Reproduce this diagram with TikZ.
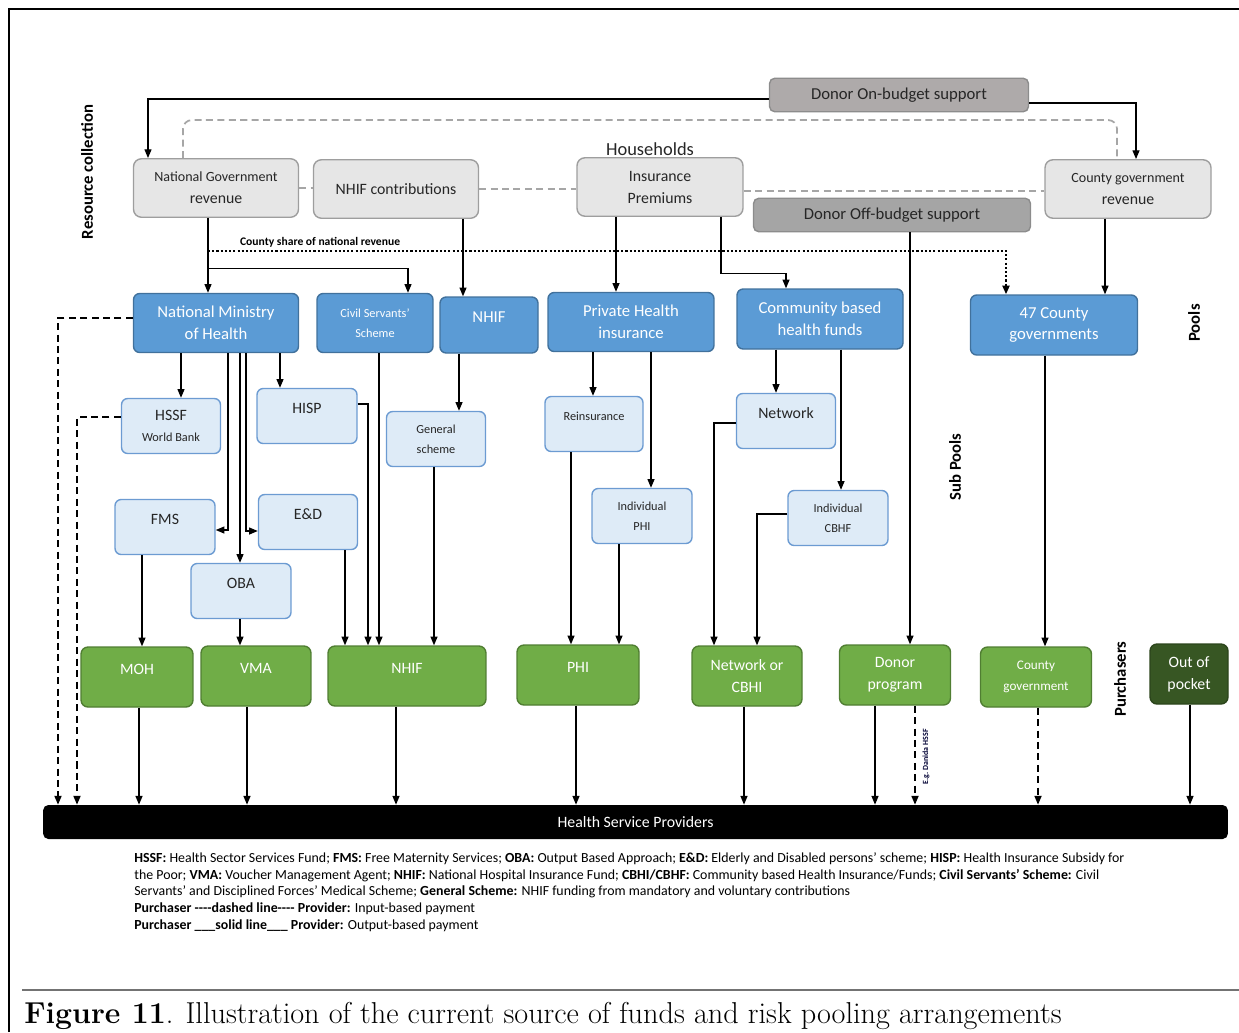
\documentclass[tikz,border=0pt]{standalone}
\usepackage{fontspec}
\setsansfont{Carlito}
\usepackage{tikz}
\usetikzlibrary{positioning, arrows.meta, calc}
\definecolor{BoxGray}{HTML}{E6E6E6}
\definecolor{BoxEdge}{HTML}{9E9E9E}
\definecolor{DonorOn}{HTML}{AEAAAA}
\definecolor{DonorOff}{HTML}{A5A5A5}
\definecolor{DonorEdge}{HTML}{8C8C8C}
\definecolor{PoolBlue}{HTML}{5B9BD5}
\definecolor{PoolEdge}{HTML}{41719C}
\definecolor{SubBlue}{HTML}{DEEBF7}
\definecolor{SubEdge}{HTML}{6C9BD2}
\definecolor{BuyGreen}{HTML}{70AD47}
\definecolor{BuyEdge}{HTML}{507E32}
\definecolor{OopGreen}{HTML}{375623}
\definecolor{DashGray}{HTML}{A6A6A6}
% vertical drop from one node to the next one below
\newcommand{\dropto}[4][arr]{%
  \draw[#1] ($(#2.south)+(#3,0)$) coordinate (tmpa) -- (tmpa |- #4.north);}

\begin{document}
\begin{tikzpicture}[x=0.02cm, y=-0.02cm, font=\sffamily,
    src/.style={rectangle, draw=BoxEdge, fill=BoxGray, rounded corners=4.5pt,
                line width=0.8pt, align=center, text=black!85, inner sep=1pt,
                minimum width=3.3cm, minimum height=1.17cm,
                font=\sffamily\fontsize{9}{12.5}\selectfont},
    dnr/.style={rectangle, draw=DonorEdge, rounded corners=3pt, line width=0.8pt,
                text=black!85, minimum height=0.67cm,
                font=\sffamily\fontsize{9.5}{11}\selectfont},
    pool/.style={rectangle, draw=PoolEdge, fill=PoolBlue, text=white,
                 rounded corners=3.5pt, line width=0.8pt, align=center, inner sep=1pt,
                 minimum width=3.3cm, minimum height=1.18cm,
                 font=\sffamily\fontsize{9.5}{12.5}\selectfont},
    sub/.style={rectangle, draw=SubEdge, fill=SubBlue, text=black!85,
                rounded corners=3.5pt, line width=0.8pt, align=center, inner sep=1pt,
                minimum width=2cm, minimum height=1.1cm,
                font=\sffamily\fontsize{9}{11.5}\selectfont},
    buy/.style={rectangle, draw=BuyEdge, fill=BuyGreen, text=white,
                rounded corners=4pt, line width=0.8pt, align=center, inner sep=1pt,
                minimum height=1.2cm, font=\sffamily\fontsize{9}{12.5}\selectfont},
    hi/.style={text depth=9pt},
    small/.style={font=\sffamily\fontsize{7}{11.5}\selectfont},
    arr/.style={-{Triangle[length=5pt,width=4pt]}, line width=0.7pt},
    darr/.style={arr, dash pattern=on 4pt off 2.5pt, line width=0.9pt},
    side/.style={rotate=90, font=\sffamily\bfseries\fontsize{9.5}{10}\selectfont}
  ]
  \useasboundingbox (0,0) rectangle (1239,1032);
  % frame and caption rule
  \draw[line width=1.7pt] (9,1032) -- (9,9) -- (1239,9);
  \draw[black!55, line width=1pt] (22,990) -- (1239,990);

  % Resource collection
  \node[src] (ngrev) at (216,188)
        {\fontsize{8}{11.5}\selectfont National Government\\revenue};
  \node[src] (nhifc) at (396,189) {NHIF contributions};
  \node[src, minimum width=3.32cm] (prem) at (660,187) {Insurance\\Premiums};
  \node[font=\sffamily\fontsize{10.5}{12}\selectfont, text=black!85] (hh) at (650,149)
        {Households};
  \node[src, minimum width=3.32cm] (cgrev) at (1128,189)
        {\fontsize{8}{11.5}\selectfont County government\\revenue};
  \node[dnr, fill=DonorOn, minimum width=5.18cm] (onbud) at (899,95)
        {Donor On-budget support};
  \node[dnr, fill=DonorOff, minimum width=5.54cm] (offbud) at (892,215)
        {Donor Off-budget support};

  % Pools
  \node[pool] (nmoh) at (216,323) {National Ministry\\of Health};
  \node[pool, minimum width=2.32cm, font=\sffamily\fontsize{7}{11.5}\selectfont]
        (civil) at (375,323) {Civil Servants’\\Scheme};
  \node[pool, hi, minimum width=1.96cm, minimum height=1.12cm] (nhifp) at (489,325) {NHIF};
  \node[pool, minimum width=3.32cm] (phins) at (631,322) {Private Health\\insurance};
  \node[pool, minimum width=3.32cm, minimum height=1.2cm] (cbhf) at (820,319)
        {Community based\\health funds};
  \node[pool, minimum width=3.34cm, minimum height=1.2cm] (county47) at (1054,325)
        {47 County\\governments};

  % Sub pools
  \node[sub, minimum width=1.98cm] (hssf) at (171,426)
        {HSSF\\{\fontsize{7}{10}\selectfont World Bank}};
  \node[sub, hi] (hisp) at (307,416) {HISP};
  \node[sub, small, minimum width=1.98cm] (gen) at (436,439) {General\\scheme};
  \node[sub, hi, font=\sffamily\fontsize{7}{11.5}\selectfont, minimum width=1.96cm]
        (reins) at (594,424) {Reinsurance};
  \node[sub, hi] (fms) at (165,527) {FMS};
  \node[sub, hi, minimum width=1.98cm] (ed) at (308,522) {E\&D};
  \node[sub, hi] (oba) at (241,591) {OBA};
  \node[sub, small] (indphi) at (642,516) {Individual\\PHI};
  \node[sub, hi, minimum width=1.98cm] (netw) at (786,421) {Network};
  \node[sub, small] (indcbhf) at (838,518) {Individual\\CBHF};

  % Purchasers
  \node[buy, hi, minimum width=2.24cm] (moh) at (137,677) {MOH};
  \node[buy, hi, minimum width=2.2cm] (vma) at (256,676) {VMA};
  \node[buy, hi, minimum width=3.16cm] (nhifb) at (407,676) {NHIF};
  \node[buy, hi, minimum width=2.44cm] (phib) at (578,675) {PHI};
  \node[buy, minimum width=2.2cm] (netcbhi) at (747,676) {Network or\\CBHI};
  \node[buy, minimum width=2.22cm] (donor) at (895,675) {Donor\\program};
  \node[buy, minimum width=2.22cm, font=\sffamily\fontsize{7.5}{12}\selectfont]
        (countyg) at (1036,677) {County\\government};
  \node[buy, fill=OopGreen, draw=OopGreen!80!black, minimum width=1.56cm]
        (oop) at (1189,674) {Out of\\pocket};

  % Providers
  \node[rectangle, fill=black, text=white, rounded corners=3pt,
        minimum width=23.7cm, minimum height=0.68cm,
        font=\sffamily\fontsize{9}{10}\selectfont] (hsp) at (635.5,822)
        {Health Service Providers};

  % side labels
  \node[side] (lrc) at (87,172) {Resource collection};
  \node[side] (lpool) at (1194,323) {Pools};
  \node[side] (lsub) at (955,467) {Sub Pools};
  \node[side] (lbuy) at (1120,679) {Purchasers};

  % gray dashed links between sources
  \draw[DashGray, line width=1pt, dash pattern=on 4pt off 2.5pt, rounded corners=5pt]
        ($(ngrev.north)+(-33,0)$) -- ++(0,-38) -| ($(cgrev.north)+(-11,0)$);
  \draw[DashGray, line width=1pt, dash pattern=on 4pt off 2.5pt]
        (ngrev.east) -- (ngrev.east -| nhifc.west);
  \draw[DashGray, line width=1pt, dash pattern=on 4pt off 2.5pt]
        (nhifc.east) -- (nhifc.east -| prem.west);
  \draw[DashGray, line width=1pt, dash pattern=on 4pt off 2.5pt]
        ($(prem.east)+(0,4)$) -- ($(prem.east -| cgrev.west)+(0,4)$);

  % donor funds
  \draw[arr] ($(onbud.west)+(0,4)$) -| ($(ngrev.north)+(-68,0)$);
  \draw[arr] ($(onbud.east)+(0,8)$) -| ($(cgrev.north)+(8,0)$);
  \dropto{offbud}{18}{donor}

  % collection to pools
  \dropto{ngrev}{-8}{nmoh}
  \draw[arr] ($(ngrev.south)+(-8,50.5)$) -| ($(civil.north)+(33,0)$);
  \draw[arr, line width=1.5pt, dash pattern=on 1.2pt off 1.2pt] ($(ngrev.south)+(-8,33)$)
        -| ($(county47.north)+(-48,0)$);
  \node[anchor=south west, inner sep=1pt,
        font=\sffamily\bfseries\fontsize{6.6}{7}\selectfont] (cshare) at (238,249)
        {County share of national revenue};
  \dropto{nhifc}{67}{nhifp}
  \dropto{prem}{-44}{phins}
  \draw[arr] ($(prem.south)+(61,0)$) -- ++(0,56.5) -| ($(cbhf.north)+(-34,0)$);
  \dropto{cgrev}{-23}{county47}

  % ministry of health schemes
  \dropto{nmoh}{-35}{hssf}
  \draw[arr] ($(nmoh.south)+(12,0)$) |- ($(fms.east)+(0,3)$);
  \dropto{nmoh}{24}{oba}
  \draw[arr] ($(nmoh.south)+(30,0)$) |- ($(ed.west)+(0,9)$);
  \dropto{nmoh}{64}{hisp}
  \draw[darr] ($(nmoh.west)+(0,-5)$) -| ($(hsp.north)+(-577.5,0)$);
  \draw[darr] ($(hssf.west)+(0,-9)$) -| ($(hsp.north)+(-558.5,0)$);

  % pools and sub pools to purchasers
  \dropto{civil}{4}{nhifb}
  \draw[arr] ($(hisp.east)+(0,-12)$) -| ($(nhifb.north)+(-39,0)$);
  \dropto{ed}{37}{nhifb}
  \dropto{nhifp}{-30}{gen}
  \dropto{gen}{-2}{nhifb}
  \dropto{fms}{-23}{moh}
  \dropto{oba}{-1}{vma}
  \dropto{phins}{-38}{reins}
  \dropto{phins}{20}{indphi}
  \dropto{reins}{-23}{phib}
  \dropto{indphi}{-23}{phib}
  \dropto{cbhf}{-44}{netw}
  \dropto{cbhf}{21}{indcbhf}
  \draw[arr] ($(netw.west)+(0,2)$) -| ($(netcbhi.north)+(-33,0)$);
  \draw[arr] ($(indcbhf.west)+(0,-4)$) -| ($(netcbhi.north)+(10,0)$);
  \dropto{county47}{-9}{countyg}

  % purchasers to providers
  \dropto{moh}{2}{hsp}
  \dropto{vma}{-9}{hsp}
  \dropto{nhifb}{-11}{hsp}
  \dropto{phib}{-2}{hsp}
  \dropto{netcbhi}{-3}{hsp}
  \dropto{donor}{-20}{hsp}
  \dropto[darr]{donor}{20}{hsp}
  \node[rotate=90, font=\sffamily\bfseries\fontsize{4.5}{5}\selectfont, text=black!80!blue]
        (danida) at (926,757) {E.g. Danida HSSF};
  \dropto[darr]{countyg}{2}{hsp}
  \dropto{oop}{1}{hsp}

  % abbreviations
  \node[anchor=north west, align=left, inner sep=0pt,
        font=\sffamily\fontsize{7.9}{9.6}\selectfont] (notes) at (134,852)
        {\textbf{HSSF:} Health Sector Services Fund; \textbf{FMS:} Free Maternity Services;
         \textbf{OBA:} Output Based Approach; \textbf{E\&D:} Elderly and Disabled persons’
         scheme; \textbf{HISP:} Health Insurance Subsidy for\\
         the Poor; \textbf{VMA:} Voucher Management Agent; \textbf{NHIF:} National Hospital
         Insurance Fund; \textbf{CBHI/CBHF:} Community based Health Insurance/Funds;
         \textbf{Civil Servants’ Scheme:} Civil\\
         Servants’ and Disciplined Forces’ Medical Scheme; \textbf{General Scheme:} NHIF
         funding from mandatory and voluntary contributions\\
         \textbf{Purchaser -{}-{}-{}-dashed line-{}-{}-{}- Provider:} Input-based payment\\
         \textbf{Purchaser \_\_\_solid line\_\_\_ Provider:} Output-based payment};

  % caption
  \node[anchor=base west, inner sep=0pt, font=\rmfamily\fontsize{17.2}{19}\selectfont]
        (cap) at (24,1023)
        {\textbf{Figure 11}. Illustration of the current source of funds and risk pooling arrangements};
\end{tikzpicture}
\end{document}
